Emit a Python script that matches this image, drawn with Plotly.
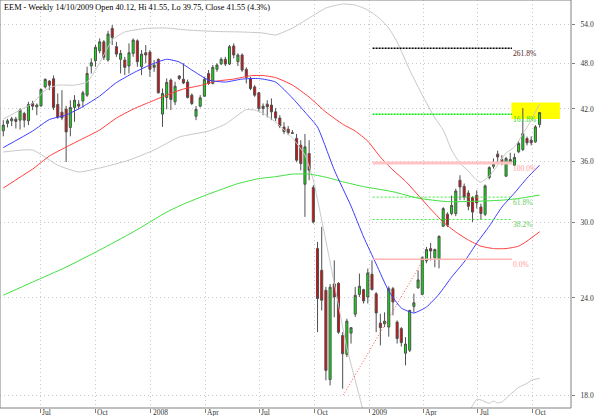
import math
import plotly.graph_objects as go
import pandas as pd

# ---------------- data (weekly EEM) ----------------
start_week = "2007-04-30"
n_weeks = 129

opens = [39.36, 40.24, 40.55, 40.75, 40.63, 41.44, 40.55, 42.69, 42.26, 42.39,
         44.83, 45.61, 45.92, 42.56, 41.60, 41.98, 39.76, 42.19, 42.60, 43.00,
         43.75, 47.69, 48.44, 49.90, 51.23, 48.54, 53.31, 50.50, 48.64, 48.54,
         47.69, 49.50, 51.38, 47.59, 49.60, 49.70, 47.50, 48.64, 41.36, 43.45,
         45.74, 42.89, 46.29, 45.85, 45.48, 43.75, 41.10, 42.35, 43.62, 46.65,
         45.29, 47.22, 48.00, 48.64, 47.97, 50.60, 48.30, 49.27, 47.22, 45.97,
         44.83, 44.05, 42.35, 42.60, 42.48, 41.64, 40.88, 39.80, 39.56, 39.14,
         38.49, 37.73, 33.61, 36.80, 33.28, 27.78, 26.05, 24.55, 18.85, 25.02,
         25.07, 21.48, 20.31, 21.63, 22.88, 24.26, 24.60, 24.07, 25.75, 24.30,
         22.28, 22.24, 22.02, 24.67, 22.35, 21.92, 20.38, 20.56, 23.41, 24.73,
         24.26, 26.79, 27.78, 27.04, 26.90, 29.68, 30.76, 30.82, 30.82, 34.01,
         33.40, 32.75, 32.31, 32.53, 31.42, 30.75, 34.29, 35.44, 36.74, 36.16,
         34.42, 35.90, 35.56, 37.00, 37.24, 38.48, 38.29, 38.10, 40.12]
highs = [40.63, 40.79, 41.03, 41.03, 42.06, 41.64, 42.89, 43.02, 42.69, 44.62,
         45.97, 45.74, 46.38, 43.97, 44.40, 42.39, 43.10, 43.75, 43.10, 44.31,
         47.59, 48.78, 50.75, 51.75, 51.49, 52.92, 53.84, 51.23, 50.00, 49.00,
         50.99, 51.75, 51.60, 50.00, 50.75, 50.00, 48.54, 48.78, 44.62, 45.97,
         45.97, 45.52, 46.42, 48.07, 45.81, 43.97, 42.35, 43.75, 46.19, 47.12,
         47.83, 48.07, 48.93, 49.00, 50.75, 50.99, 49.51, 49.51, 47.50, 46.19,
         45.06, 44.18, 42.69, 43.10, 43.32, 42.10, 41.23, 40.39, 39.92, 39.45,
         39.00, 38.29, 39.00, 38.29, 33.51, 28.33, 29.62, 24.80, 25.02, 26.82,
         25.14, 21.69, 22.57, 22.02, 24.80, 25.80, 24.67, 26.18, 26.82, 24.42,
         22.90, 23.00, 24.85, 24.80, 22.46, 22.02, 21.37, 23.18, 24.31, 26.05,
         27.15, 27.92, 28.25, 27.78, 28.89, 31.40, 30.93, 32.50, 33.17, 34.52,
         33.68, 33.01, 32.44, 33.01, 31.73, 33.58, 35.45, 36.27, 37.12, 36.63,
         36.45, 36.89, 36.81, 38.21, 42.10, 38.70, 38.73, 40.04, 41.55]
lows = [38.73, 39.76, 39.92, 39.64, 39.52, 39.76, 40.04, 41.85, 41.23, 42.26,
        44.62, 44.40, 41.85, 40.79, 40.63, 35.90, 38.73, 40.43, 41.94, 42.19,
        43.53, 46.65, 47.59, 49.51, 48.54, 48.30, 50.75, 49.00, 46.65, 46.42,
        46.65, 49.00, 47.59, 46.42, 48.07, 46.19, 46.88, 43.97, 39.83, 41.94,
        41.85, 42.48, 45.74, 45.20, 43.32, 42.48, 40.63, 42.19, 43.53, 45.08,
        45.16, 46.88, 47.83, 47.69, 47.83, 48.78, 47.69, 46.88, 45.29, 44.40,
        43.53, 41.64, 41.23, 40.96, 40.63, 40.51, 39.68, 38.99, 38.87, 38.99,
        35.87, 35.03, 30.51, 34.01, 29.92, 21.69, 23.13, 18.81, 18.53, 22.67,
        21.59, 18.35, 20.15, 20.97, 22.69, 24.07, 23.61, 23.61, 24.55, 21.69,
        20.86, 22.02, 21.40, 22.80, 20.97, 20.79, 19.66, 20.45, 23.00, 24.67,
        24.19, 26.60, 26.82, 26.28, 26.20, 29.62, 29.60, 30.66, 30.58, 32.06,
        32.06, 31.11, 30.06, 31.28, 30.27, 30.58, 34.09, 35.20, 35.90, 35.56,
        34.35, 35.80, 35.44, 36.85, 37.07, 37.70, 37.70, 37.99, 39.75]
closes = [40.04, 40.55, 40.79, 40.48, 41.85, 40.63, 42.56, 42.35, 42.48, 44.49,
          45.84, 45.06, 42.19, 41.02, 40.90, 39.24, 42.19, 43.10, 42.35, 44.05,
          46.65, 48.16, 50.40, 51.23, 48.93, 52.42, 51.90, 49.40, 49.50, 47.50,
          49.60, 51.49, 48.30, 49.40, 49.27, 47.22, 47.83, 44.05, 43.97, 45.43,
          43.19, 44.92, 45.97, 45.36, 43.45, 42.68, 41.94, 43.40, 45.84, 45.29,
          47.50, 47.83, 48.64, 47.96, 50.49, 49.27, 49.27, 47.12, 46.11, 44.62,
          43.75, 42.06, 42.06, 42.26, 41.64, 40.88, 39.92, 39.28, 39.12, 39.08,
          36.09, 35.73, 37.54, 35.03, 30.06, 23.96, 23.84, 19.37, 24.78, 24.07,
          21.69, 20.35, 22.41, 21.98, 24.19, 24.85, 23.79, 25.85, 24.60, 22.96,
          21.98, 22.41, 24.67, 23.72, 21.29, 21.03, 20.94, 23.13, 23.66, 25.32,
          27.04, 27.70, 27.58, 27.70, 28.80, 31.27, 29.77, 31.57, 32.94, 33.34,
          32.37, 31.48, 30.95, 31.80, 30.82, 33.44, 35.31, 35.73, 36.44, 35.80,
          36.27, 36.16, 36.38, 37.92, 39.05, 37.99, 37.99, 39.83, 41.55]

# moving averages / bands sampled at week numbers (1-based)
blue_wk = [1, 8, 12, 16, 20, 24, 28, 32, 36, 40, 43, 46, 50, 54, 58, 62, 66, 70, 73, 76,
           80, 84, 87, 90, 93, 96, 99, 102, 105, 108, 111, 114, 117, 120, 123, 126, 129]
blue_val = [37.46, 39.34, 40.70, 41.25, 42.29, 43.63, 45.41, 46.71, 47.83, 48.65, 48.26,
            47.13, 45.75, 45.48, 45.88, 45.95, 45.48, 43.38, 41.61, 39.80, 35.05, 31.50,
            28.75, 26.54, 24.50, 23.30, 22.96, 23.37, 24.27, 25.53, 26.70, 28.23, 29.69,
            31.41, 32.74, 34.22, 35.56]

red_wk = [1, 5, 8, 12, 16, 20, 24, 28, 32, 36, 40, 44, 48, 52, 56, 60, 63, 66, 70, 74,
          78, 82, 85, 88, 91, 94, 97, 100, 103, 106, 109, 112, 115, 118, 121, 124, 126, 129]
red_val = [33.23, 34.32, 35.15, 36.53, 37.52, 38.47, 39.46, 40.88, 41.98, 42.87, 43.76,
           44.55, 45.01, 45.61, 45.88, 46.34, 46.36, 46.08, 45.08, 43.50, 41.61, 40.15,
           39.34, 38.18, 36.42, 35.05, 33.91, 32.55, 31.23, 30.04, 29.18, 28.49, 27.98,
           27.78, 27.78, 27.98, 28.40, 29.20]

green_wk = [1, 8, 16, 24, 32, 40, 44, 50, 57, 62, 66, 70, 74, 78, 82, 87, 94, 100, 107,
            114, 120, 124, 129]
green_val = [24.20, 25.16, 26.30, 27.66, 29.18, 30.95, 31.69, 32.64, 33.67, 34.17, 34.37,
             34.63, 34.63, 34.32, 33.86, 33.37, 32.87, 32.25, 31.92, 31.96, 32.06, 32.22,
             32.55]

bb_up_wk = [1, 5, 8, 11, 14, 18, 21, 23, 25, 27, 30, 35, 40, 45, 52, 58, 63, 66, 70, 74,
            78, 82, 85, 88, 91, 93, 95, 98, 101, 104, 106, 108, 110, 112, 114, 115, 117,
            119, 121, 123, 125, 127, 129]
bb_up_val = [40.76, 41.85, 42.72, 44.40, 45.06, 45.06, 45.48, 47.12, 49.28, 51.50, 52.74,
             53.30, 53.36, 53.05, 52.82, 52.74, 52.58, 52.28, 53.36, 54.97, 56.62, 57.29,
             57.12, 56.29, 54.80, 53.36, 51.20, 47.12, 43.76, 40.89, 39.46, 37.19, 35.77,
             34.94, 34.01, 33.81, 34.42, 35.56, 36.86, 37.52, 38.99, 40.63, 42.61]

bb_lo_wk = [1, 8, 14, 19, 24, 31, 37, 43, 50, 54, 59, 61, 63, 66, 70, 73, 75, 77, 79, 81,
            83, 85, 87, None, 112, 113, 114, 115, 117, 118, 119, 120, 122, 124, 126, 127, 129]
bb_lo_val = [36.97, 37.19, 35.56, 34.85, 35.26, 36.09, 37.19, 38.65, 39.34, 40.15, 41.92,
             41.85, 41.48, 40.39, 38.53, 36.64, 34.01, 30.22, 26.70, 23.50, 20.70, 18.81,
             17.10, None, 17.10, 17.45, 17.78, 17.75, 17.57, 17.69, 17.59, 17.64, 18.04,
             18.42, 18.64, 18.81, 18.92]

fib_names = ["0.0%", "38.2%", "61.8%", "100.0%", "161.8%", "261.8%"]
fib_levels = [26.91, 30.28, 32.35, 35.80, 41.33, 50.26]
fib_from, fib_to = "2009-01-06", "2009-08-27"

diag_dates = ["2008-11-18", "2009-04-01"]
diag_vals = [18.00, 26.91]

box_dates = ["2009-08-26", "2009-11-15"]
box_vals = [40.76, 42.82]

y_ticks = [18, 24, 30, 36, 42, 48, 54]
x_ticks = ["2007-07-01", "2007-10-01", "2008-01-01", "2008-04-01", "2008-07-01",
           "2008-10-01", "2009-01-01", "2009-04-01", "2009-07-01", "2009-10-01"]
x_labels = ["Jul", "Oct", "2008", "Apr", "Jul", "Oct", "2009", "Apr", "Jul", "Oct"]

title_text = "EEM - Weekly 14/10/2009 Open 40.12, Hi 41.55, Lo 39.75, Close 41.55 (4.3%)"

# ---------------- figure ----------------
dates = pd.date_range(start_week, periods=n_weeks, freq="7D")


def wk_dates(idx):
    return [None if i is None else dates[i - 1] for i in idx]


SERIF = "Liberation Serif, Times New Roman, serif"
fig = go.Figure()

for wk, val in [(bb_up_wk, bb_up_val), (bb_lo_wk, bb_lo_val)]:
    fig.add_trace(go.Scatter(x=wk_dates(wk), y=val, mode="lines",
                             line=dict(color="#c8c8c8", width=1, shape="spline", smoothing=0.5),
                             hoverinfo="skip"))

for wk, val, col in [(green_wk, green_val, "#3fe03f"), (red_wk, red_val, "#ff3c3c"),
                     (blue_wk, blue_val, "#3c3cff")]:
    fig.add_trace(go.Scatter(x=wk_dates(wk), y=val, mode="lines",
                             line=dict(color=col, width=1, shape="spline", smoothing=0.5),
                             hoverinfo="skip"))

fib_style = {
    "0.0%": dict(color="#ffb4b4", width=1.5, dash="solid"),
    "38.2%": dict(color="#33ee33", width=1, dash="2px,2px"),
    "61.8%": dict(color="#33ee33", width=1, dash="2px,2px"),
    "100.0%": dict(color="#ffc4c4", width=3, dash="solid"),
    "161.8%": dict(color="#00ee00", width=1.5, dash="2px,1px"),
    "261.8%": dict(color="#000000", width=1.5, dash="2px,1px"),
}
fib_text_col = {"0.0%": "#ff9c9c", "38.2%": "#66cc66", "61.8%": "#66cc66",
                "100.0%": "#ff9c9c", "161.8%": "#22dd22", "261.8%": "#502020"}

fig.add_shape(type="rect", xref="x", yref="y", x0=box_dates[0], x1=box_dates[1],
              y0=box_vals[0], y1=box_vals[1], fillcolor="#ffff00", line=dict(width=0),
              layer="between")

for name, lvl in zip(fib_names, fib_levels):
    fig.add_trace(go.Scatter(x=[fib_from, fib_to], y=[lvl, lvl], mode="lines",
                             line=fib_style[name], hoverinfo="skip"))
    # annotations on a log axis take log10 positions
    fig.add_annotation(x=fib_to, y=math.log10(lvl), text=name, showarrow=False,
                       xanchor="left", yanchor="top", xshift=-1, yshift=1,
                       font=dict(family=SERIF, size=7.5, color=fib_text_col[name]))

fig.add_trace(go.Scatter(x=diag_dates, y=diag_vals, mode="lines",
                         line=dict(color="#ff5050", width=1, dash="1px,2px"), hoverinfo="skip"))

fig.add_trace(go.Candlestick(
    x=dates, open=opens, high=highs, low=lows, close=closes,
    increasing=dict(fillcolor="#00ee00", line=dict(color="#505050", width=1)),
    decreasing=dict(fillcolor="#ee0000", line=dict(color="#505050", width=1)),
    whiskerwidth=0, hoverinfo="skip"))

fig.add_annotation(xref="paper", yref="paper", x=0.003, y=0.998, xanchor="left", yanchor="top",
                   text=title_text, showarrow=False,
                   font=dict(family=SERIF, size=8.3, color="#000000"))

# x tick labels (left-aligned at the tick, just under the axis)
for xv, xl in zip(x_ticks, x_labels):
    fig.add_annotation(x=xv, y=0, xref="x", yref="paper", text=xl, showarrow=False,
                       xanchor="left", yanchor="top", xshift=0, yshift=2,
                       font=dict(family=SERIF, size=7.5, color="#333333"))

# frame around the plot area
fig.add_shape(type="rect", xref="paper", yref="paper", x0=0, x1=1, y0=0, y1=1,
              line=dict(color="#808080", width=1), layer="above")

axis_common = dict(showline=False, showgrid=True, gridcolor="#c8c8c8", griddash="1px,3px",
                   gridwidth=1, ticks="outside", tickcolor="#808080", zeroline=False,
                   automargin=False,
                   tickfont=dict(family=SERIF, size=7.5, color="#333333"))

fig.update_layout(
    width=600, height=416,
    margin=dict(l=0, r=29, t=0, b=8, autoexpand=False),
    paper_bgcolor="white", plot_bgcolor="white",
    showlegend=False,
    xaxis=dict(type="date", range=["2007-04-24 12:00", "2009-12-03 12:00"],
               tickvals=x_ticks, ticktext=x_labels, ticklen=4, showticklabels=False,
               rangeslider=dict(visible=False), **axis_common),
    yaxis=dict(type="log", side="right", range=[1.23880, 1.76328],
               tickvals=y_ticks, ticktext=[f"{v:.1f}" for v in y_ticks], ticklen=3,
               ticklabelstandoff=4, **axis_common),
)

fig.write_html("out.html", config={"displayModeBar": False, "staticPlot": True},
               post_script="document.body.style.margin='0';"
                           "document.body.style.overflow='hidden';")
